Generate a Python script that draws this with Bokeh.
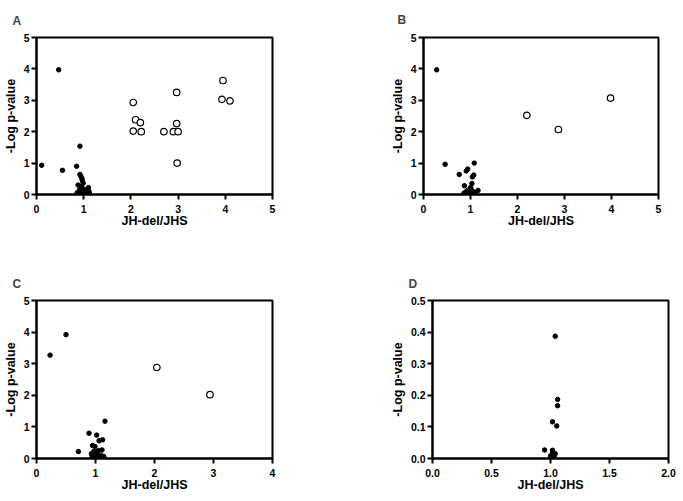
from bokeh.plotting import figure
from bokeh.layouts import column, row
from bokeh.models import Range1d, FixedTicker, NumeralTickFormatter
from bokeh.embed import file_html
from bokeh.resources import INLINE

FONT = "Liberation Sans"
X_LABEL = "JH-del/JHS"
Y_LABEL = "-Log p-value"

# Panel A
A_filled_x = [0.11, 0.47, 0.55, 0.85, 0.92, 0.92, 0.94, 0.96, 0.97, 0.99, 0.88, 0.95, 0.86, 0.90,
              0.93, 0.96, 0.98, 1.00, 1.02, 1.04, 1.06, 1.08, 1.10, 1.12, 0.91, 0.95, 0.99, 1.03,
              1.07, 1.11, 0.94, 1.00, 1.05, 0.97, 1.01]
A_filled_y = [0.93, 3.97, 0.77, 0.90, 1.54, 0.64, 0.58, 0.52, 0.44, 0.36, 0.30, 0.25, 0.05, 0.08,
              0.03, 0.10, 0.02, 0.06, 0.12, 0.04, 0.09, 0.15, 0.22, 0.05, 0.14, 0.18, 0.11, 0.01,
              0.03, 0.10, 0.00, 0.02, 0.07, 0.20, 0.16]
A_open_x = [2.05, 2.10, 2.20, 2.05, 2.22, 2.70, 2.90, 3.00, 2.97, 2.97, 2.98, 3.95, 3.93, 4.10]
A_open_y = [2.93, 2.38, 2.29, 2.02, 2.00, 2.00, 2.00, 2.00, 2.26, 3.25, 1.00, 3.63, 3.03, 2.98]

# Panel B
B_filled_x = [0.28, 0.46, 0.76, 0.91, 0.94, 1.08, 1.07, 1.04, 1.03, 0.87, 1.16, 0.86, 0.90, 0.94,
              0.97, 1.00, 1.02, 1.05, 1.08, 0.99, 1.01, 0.93, 1.10, 0.96]
B_filled_y = [3.97, 0.96, 0.64, 0.75, 0.81, 1.00, 0.62, 0.56, 0.35, 0.28, 0.13, 0.04, 0.08, 0.02,
              0.15, 0.22, 0.05, 0.10, 0.03, 0.00, 0.18, 0.12, 0.06, 0.01]
B_open_x = [2.20, 2.87, 3.98]
B_open_y = [2.52, 2.07, 3.07]

# Panel C
C_filled_x = [0.23, 0.50, 0.71, 0.89, 1.02, 1.16, 1.06, 1.12, 0.95, 0.99, 1.11, 0.93, 0.96, 1.00,
              1.03, 1.05, 1.08, 0.98, 1.01, 1.14, 0.94, 1.04, 0.97, 1.10, 1.00, 1.07]
C_filled_y = [3.27, 3.92, 0.22, 0.80, 0.74, 1.18, 0.56, 0.59, 0.41, 0.38, 0.27, 0.15, 0.08, 0.20,
              0.12, 0.25, 0.05, 0.02, 0.10, 0.06, 0.03, 0.16, 0.22, 0.09, 0.00, 0.01]
C_open_x = [2.04, 2.94]
C_open_y = [2.88, 2.02]

# Panel D
D_filled_x = [1.04, 1.06, 1.06, 1.017, 1.053, 0.95, 1.017, 1.028, 1.04, 1.013, 1.00, 1.03, 1.02]
D_filled_y = [0.387, 0.187, 0.167, 0.116, 0.103, 0.027, 0.026, 0.016, 0.015, 0.012, 0.008, 0.005, 0.02]
D_open_x = []
D_open_y = []

TICKS_0_5 = [0, 1, 2, 3, 4, 5]
TICKS_0_4 = [0, 1, 2, 3, 4]
TICKS_D_X = [0.0, 0.5, 1.0, 1.5, 2.0]
TICKS_D_Y = [0.0, 0.1, 0.2, 0.3, 0.4, 0.5]


def panel(letter, w, h, bl, bt, br, bb, xr, xt, yr, yt, fx, fy, ox, oy,
          decimal=False, toff=-24, tstand=20):
    p = figure(width=w, height=h, output_backend="svg", toolbar_location=None,
               x_range=Range1d(*xr), y_range=Range1d(*yr),
               min_border_left=bl, min_border_top=bt, min_border_right=br, min_border_bottom=bb,
               background_fill_color="white", border_fill_color="white")
    p.grid.visible = False
    p.outline_line_color = "black"
    p.outline_line_width = 2
    p.outline_line_alpha = 1
    p.xaxis.ticker = FixedTicker(ticks=xt)
    p.yaxis.ticker = FixedTicker(ticks=yt)
    if decimal:
        p.xaxis.formatter = NumeralTickFormatter(format="0.0")
        p.yaxis.formatter = NumeralTickFormatter(format="0.0")
    for ax in (p.xaxis[0], p.yaxis[0]):
        ax.axis_line_width = 2
        ax.axis_line_color = "black"
        ax.major_tick_line_width = 2
        ax.major_tick_in = 0
        ax.major_tick_out = 5
        ax.minor_tick_line_color = None
        ax.major_label_text_font = FONT
        ax.major_label_text_font_style = "bold"
        ax.major_label_text_font_size = "10.5px"
        ax.major_label_text_color = "black"
        ax.axis_label_text_font = FONT
        ax.axis_label_text_font_style = "bold"
        ax.axis_label_text_font_size = "12.5px"
        ax.axis_label_text_color = "black"
    p.xaxis.axis_label = X_LABEL
    p.yaxis.axis_label = Y_LABEL
    p.xaxis.major_label_standoff = 5
    p.xaxis.axis_label_standoff = -2
    p.yaxis.major_label_standoff = 2
    p.yaxis.axis_label_standoff = 3
    p.title.text = letter
    p.title.align = "left"
    p.title.offset = toff
    p.title.text_font = FONT
    p.title.text_font_style = "bold"
    p.title.text_font_size = "12px"
    p.title.standoff = tstand
    p.scatter(fx, fy, marker="circle", size=4.5, fill_color="black", line_color="black")
    if ox:
        p.scatter(ox, oy, marker="circle", size=6.5, fill_color="white", line_color="black",
                  line_width=1.2)
    return p


pa = panel("A", 340, 250, 36, 37, 68, 56, (0, 5), TICKS_0_5, (0, 5), TICKS_0_5,
           A_filled_x, A_filled_y, A_open_x, A_open_y, toff=-24, tstand=19)
pb = panel("B", 340, 250, 83, 37, 22, 56, (0, 5), TICKS_0_5, (0, 5), TICKS_0_5,
           B_filled_x, B_filled_y, B_open_x, B_open_y, toff=-26, tstand=21)
pc = panel("C", 340, 250, 36, 50, 68, 42, (0, 4), TICKS_0_4, (0, 5), TICKS_0_5,
           C_filled_x, C_filled_y, C_open_x, C_open_y, toff=-24, tstand=19)
pd = panel("D", 340, 250, 92, 50, 12, 42, (0, 2), TICKS_D_X, (0, 0.5), TICKS_D_Y,
           D_filled_x, D_filled_y, D_open_x, D_open_y, decimal=True, toff=-24, tstand=19)

layout = column(row(pa, pb), row(pc, pd))

open("out.html", "w").write(file_html(layout, INLINE))
